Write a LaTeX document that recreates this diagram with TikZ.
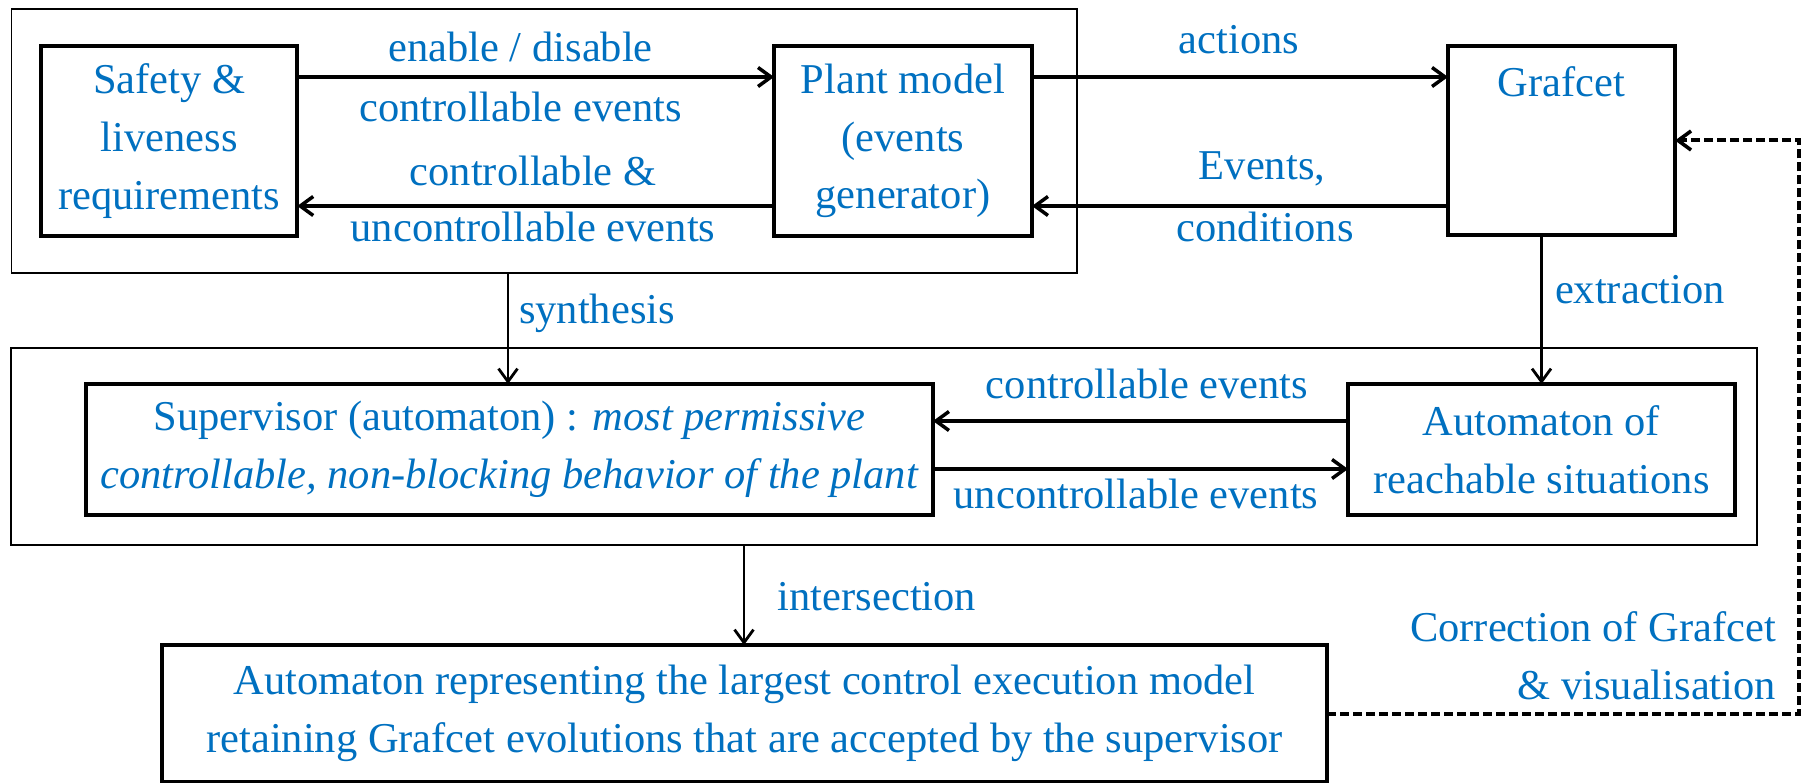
\documentclass[tikz,border=0pt]{standalone}
\usepackage{fontspec}
\setmainfont{Liberation Serif}
\usetikzlibrary{arrows.meta}
\definecolor{txtblue}{HTML}{0070C0}
\begin{document}
\begin{tikzpicture}[x=1pt,y=-1pt,
  every node/.style={inner sep=0pt,outer sep=0pt},
  txt/.style={text=txtblue,font=\fontsize{42.5}{57.6}\selectfont,align=center},
  block/.style={draw,line width=3.8pt,txt},
  frame/.style={draw,line width=1.9pt},
  barb/.style={-{Straight Barb[length=13pt,width=19pt,line width=#1]}},
  flow/.style={line width=3.5pt,barb=3.5pt},
  vflow/.style={line width=2.8pt,barb=2.8pt},
  fback/.style={line width=4pt,dash pattern=on 9pt off 4pt,barb=3.6pt},
  lbl/.style={txt}]
\useasboundingbox (0,0) rectangle (1806,783);

% grouping frames
\node[frame,minimum width=1065.5pt,minimum height=264pt] (top) at (544.25,141) {};
\node[frame,minimum width=1746pt,minimum height=197pt] (mid) at (884,446.5) {};

% blocks
\node[block,minimum width=256pt,minimum height=190pt] (safety) at (169.25,141)
  {Safety \&\\liveness\\requirements};
\node[block,minimum width=258pt,minimum height=190pt] (plant) at (903,141)
  {Plant model\\(events\\generator)};
\node[block,minimum width=227pt,minimum height=189pt] (grafcet) at (1561.5,140.5) {};
\node[txt] (graftxt) at (1561.5,82) {Grafcet};
\node[block,minimum width=847pt,minimum height=131pt] (sup) at (509.5,449.5)
  {Supervisor (automaton) : \textit{most permissive}\\\textit{controllable, non-blocking behavior of the plant}};
\node[block,minimum width=387pt,minimum height=131pt] (reach) at (1541.5,449.5)
  {Automaton of\\reachable situations};
\node[block,minimum width=1165pt,minimum height=137pt] (result) at (744.5,713.5)
  {Automaton representing the largest control execution model\\retaining Grafcet evolutions that are accepted by the supervisor};

% levels of the horizontal connectors
\coordinate (yhi) at (0,77);
\coordinate (ylo) at (0,206);
\coordinate (ymhi) at (0,421);
\coordinate (ymlo) at (0,469);
\coordinate (xsyn) at (508,0);
\coordinate (xint) at (744,0);
\coordinate (xret) at (1799,0);

\draw[flow] (safety.east |- yhi) -- (plant.west |- yhi);
\draw[flow] (plant.west |- ylo) -- (safety.east |- ylo);
\draw[flow] (plant.east |- yhi) -- (grafcet.west |- yhi);
\draw[flow] (grafcet.west |- ylo) -- (plant.east |- ylo);
\draw[flow] (reach.west |- ymhi) -- (sup.east |- ymhi);
\draw[flow] (sup.east |- ymlo) -- (reach.west |- ymlo);

\draw[vflow] (top.south -| xsyn) -- (sup.north -| xsyn);
\draw[vflow] (grafcet.south -| reach.north) -- (reach.north);
\draw[vflow] (mid.south -| xint) -- (result.north -| xint);

\draw[fback] (result.east) -- (result.east -| xret) |- (grafcet.east);

% connector labels
\node[lbl] (l1) at (520.6,47) {enable / disable};
\node[lbl] (l2) at (520.6,107) {controllable events};
\node[lbl] (l3) at (533,170.5) {controllable \&};
\node[lbl] (l4) at (533,227) {uncontrollable events};
\node[lbl] (l5) at (1239,40) {actions};
\node[lbl] (l6) at (1262,169) {Events,};
\node[lbl] (l7) at (1265,227) {conditions};
\node[lbl] (l8) at (597,313) {synthesis};
\node[lbl] (l9) at (1640,290) {extraction};
\node[lbl] (l10) at (1147,383.5) {controllable events};
\node[lbl] (l11) at (1136,494) {uncontrollable events};
\node[lbl] (l12) at (877,597) {intersection};
\node[lbl,anchor=east,align=right] (l13) at (1776,656) {Correction of Grafcet\\\& visualisation};
\end{tikzpicture}
\end{document}
